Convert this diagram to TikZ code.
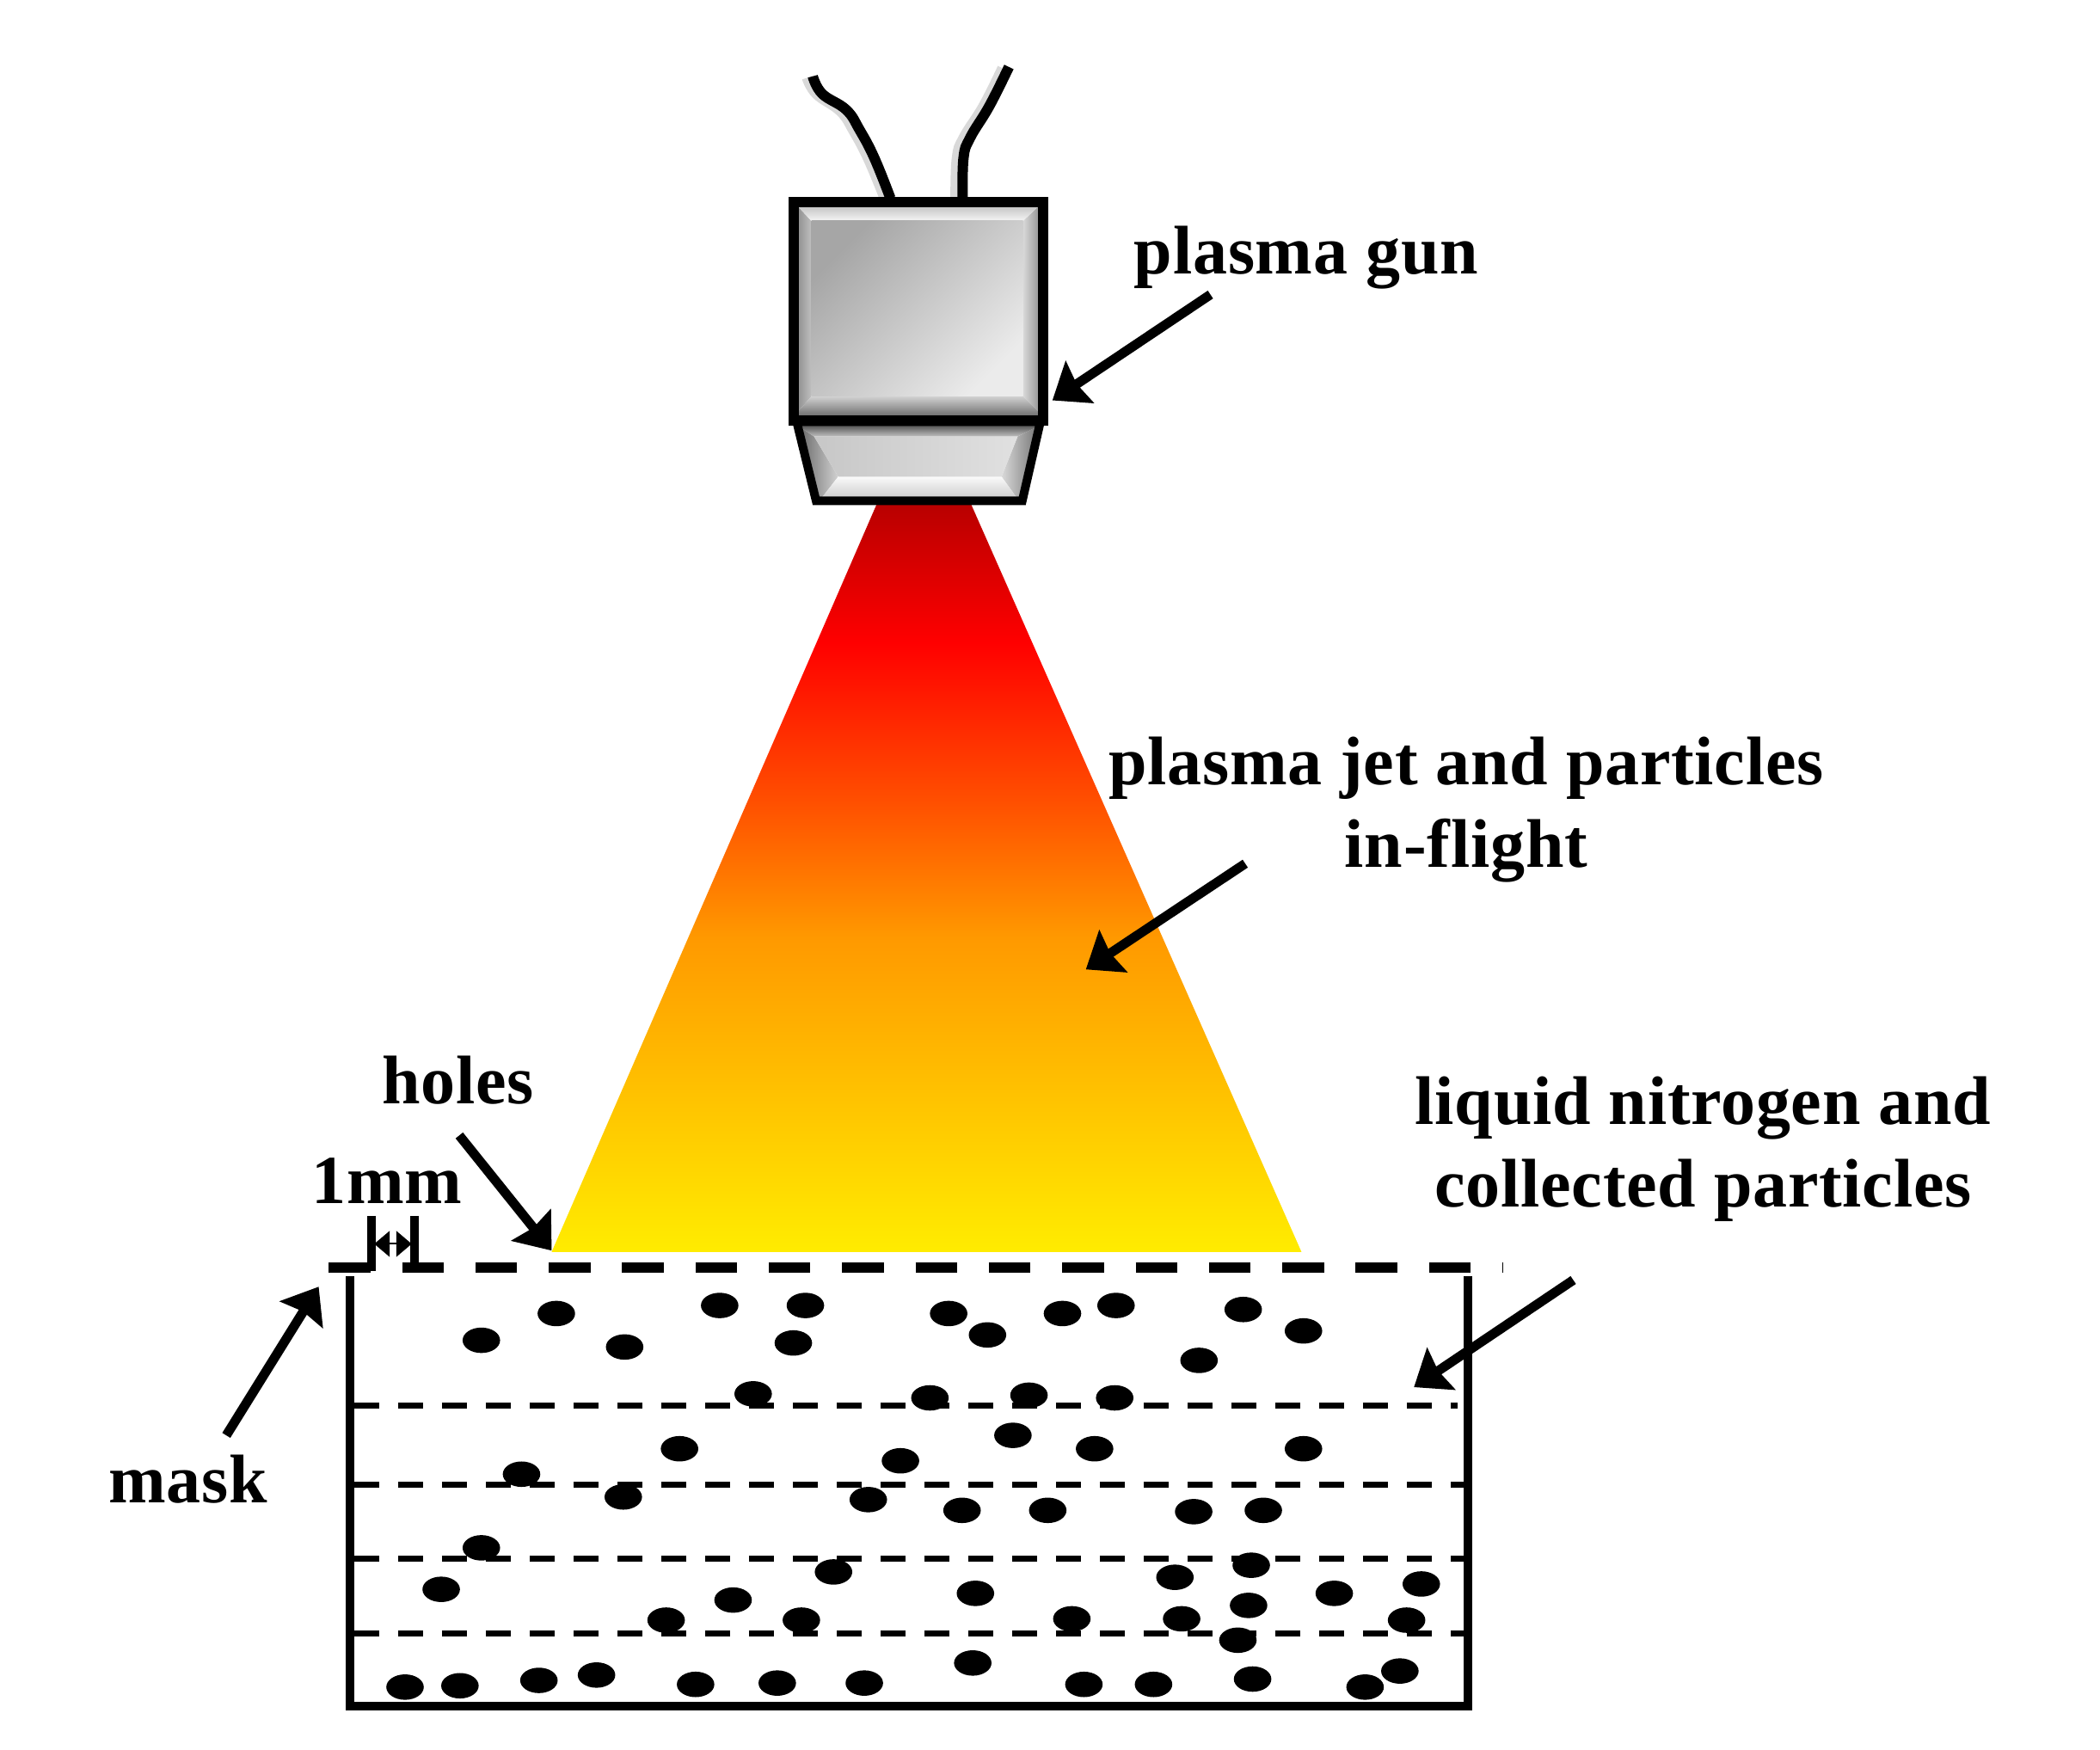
\documentclass[tikz,border=0pt]{standalone}
\usepackage{fontspec}
\setmainfont[LetterSpace=1.0]{Liberation Serif}
\usetikzlibrary{arrows.meta,calc}
\definecolor{jetA}{HTML}{FFEC00}
\definecolor{jetB}{HTML}{FFD800}
\definecolor{jetC}{HTML}{FFC400}
\definecolor{jetD}{HTML}{FF9900}
\definecolor{jetE}{HTML}{FF5000}
\definecolor{jetF}{HTML}{FF0000}
\definecolor{jetG}{HTML}{B80000}
\pgfdeclareverticalshading{jetfill}{100bp}{
  color(0bp)=(jetA); color(25bp)=(jetA); color(30bp)=(jetB); color(35bp)=(jetC);
  color(46bp)=(jetD); color(55bp)=(jetE); color(65.7bp)=(jetF); color(75bp)=(jetG); color(100bp)=(jetG)}
\tikzset{
  lbl/.style={font=\fontsize{40}{48}\selectfont\bfseries, align=center, inner sep=0pt, text=black},
  pointer/.style={draw=black, line width=5.5pt, -{Stealth[length=19pt,width=29pt,inset=2pt]}, shorten >=0pt},
  cable/.style={draw=black, line width=6pt, line cap=butt},
  cableglow/.style={draw=black!15, line width=6.5pt, line cap=butt},
  housing/.style={draw=black, line width=6pt, line join=miter},
  nozzle/.style={draw=black, line width=5pt, line join=miter},
  maskline/.style={draw=black, line width=6pt, dash pattern=on 24.2pt off 18.45pt},
  layerline/.style={draw=black, line width=3.5pt, dash pattern=on 14.5pt off 11pt},
  wall/.style={draw=black, line width=5pt, line cap=butt, line join=miter},
  tick/.style={draw=black, line width=5pt},
  dim/.style={draw=black, line width=1pt, {Triangle[length=9pt,width=15pt]}-{Triangle[length=9pt,width=15pt]}},
  particle/.style={fill=black}
}
\begin{document}
\begin{tikzpicture}[x=0.7785pt,y=-0.7785pt]
\useasboundingbox (0,0) rectangle (1568.4,1307);
% jet
\shade[shading=jetfill] (655,376) -- (725,376) -- (972,935) -- (412,935) -- cycle;
% cables
\path[cableglow] plot[smooth,tension=0.7] coordinates {(603,58) (610,70) (628,83) (638,98) (649,119) (661,148)};
\path[cableglow] plot[smooth,tension=0.7] coordinates {(749,51) (735,79) (720,103) (715,118) (714,148)};
\path[cable] plot[smooth,tension=0.7] coordinates {(607,57) (614,70) (632,82) (642,97) (653,118) (665,148)};
\path[cable] plot[smooth,tension=0.7] coordinates {(753.5,50) (739,79) (724.5,103) (719.6,118) (719,148)};
% gun body bevels
\shade[left color=black!50,right color=black!25] (592,150) -- (606,165) -- (606,296) -- (592,312) -- cycle;
\shade[left color=black!15,right color=black!50] (764,165) -- (780,150) -- (780,312) -- (764,296) -- cycle;
\shade[top color=black!30,bottom color=black!4] (592,150) -- (780,150) -- (764,165) -- (606,165) -- cycle;
\shade[top color=black!18,bottom color=black!60] (606,296) -- (764,296) -- (780,312) -- (592,312) -- cycle;
\shade[left color=black!35, right color=black!8, shading angle=45] (606,165) rectangle (764,296);
% nozzle bevels
\shade[left color=black!60,right color=black!18] (596,318) -- (608,326) -- (626,356) -- (612,374) -- cycle;
\shade[left color=black!15,right color=black!55] (760,326) -- (776,318) -- (761,374) -- (748,356) -- cycle;
\shade[top color=black!65,bottom color=black!25] (596,318) -- (776,318) -- (760,326) -- (608,326) -- cycle;
\shade[top color=black!2,bottom color=black!22] (626,356) -- (748,356) -- (761,374) -- (612,374) -- cycle;
\shade[left color=black!22,right color=black!12] (608,326) -- (760,326) -- (748,356) -- (626,356) -- cycle;
\path[housing] (593,151) rectangle (779,314);
\path[nozzle] (595,315) -- (777,315) -- (763.5,374) -- (609.5,374) -- cycle;
\begin{scope}[shift={(0.5,1)}]
% mask
\coordinate (maskL) at (245,945.5); \coordinate (maskR) at (1122,945.5);
\path[maskline] (maskL) -- (maskR);
\coordinate (tickLa) at (277,907); \coordinate (tickLb) at (277,948);
\coordinate (tickRa) at (309,907); \coordinate (tickRb) at (309,942);
\path[tick] (tickLa) -- (tickLb);
\path[tick] (tickRa) -- (tickRb);
\coordinate (dimL) at (279,928); \coordinate (dimR) at (307,928);
\path[dim] (dimL) -- (dimR);
% container
\coordinate (cTL) at (261,952); \coordinate (cBL) at (261,1273); \coordinate (cBR) at (1096,1273); \coordinate (cTR) at (1096,952);
\path[wall] (cTL) -- (cBL) -- (cBR) -- (cTR);
% layers
\foreach \yy/\xe in {1049/1088,1108/1094,1163/1094,1219/1094}{
  \path[layerline] (264,\yy) -- (\xe,\yy);
}
% particles
\foreach \px/\py in {359/1000,415/980,466/1005,537/974,601/974,592/1002,708/980,737/996,793/980,833/974,928/977,973/993,895/1015,
562/1040,694/1043,768/1041,832/1043,
756/1071,507/1081,672/1090,817/1081,973/1081,389/1100,465/1117,648/1119,718/1127,782/1127,891/1128,943/1127,
359/1155,329/1186,622/1173,877/1177,934/1168,728/1189,547/1194,932/1198,996/1189,1061/1182,497/1209,598/1209,800/1208,882/1208,1050/1209,924/1224,
302/1259,343/1258,402/1254,445/1250,519/1257,580/1256,645/1256,726/1241,809/1257,861/1257,935/1253,1019/1259,1045/1247}{
  \fill[particle] (\px,\py) ellipse [x radius=14,y radius=9.5];
}
\end{scope}
% labels
\node[lbl] (gunlabel) at (975.5,192.5) {plasma gun};
\node[lbl] (jetlabel) at (1095,605) {plasma jet and particles\\in-flight};
\node[lbl] (holeslabel) at (342,807) {holes};
\node[lbl] (mmlabel) at (289,882) {1mm};
\node[lbl] (liqlabel) at (1272,858) {liquid nitrogen and\\collected particles};
\node[lbl] (masklabel) at (140.5,1105) {mask};
% pointers
\coordinate (gunT) at (904,220); \coordinate (gunH) at (786,299);
\coordinate (jetT) at (930,645); \coordinate (jetH) at (811,724);
\coordinate (holT) at (343,848); \coordinate (holH) at (412,934);
\coordinate (maskT) at (169,1072); \coordinate (maskH) at (238,961);
\coordinate (liqT) at (1175,956); \coordinate (liqH) at (1056,1036);
\path[pointer] (gunT) -- (gunH);
\path[pointer] (jetT) -- (jetH);
\path[pointer] (holT) -- (holH);
\path[pointer] (maskT) -- (maskH);
\path[pointer] (liqT) -- (liqH);
\end{tikzpicture}
\end{document}
